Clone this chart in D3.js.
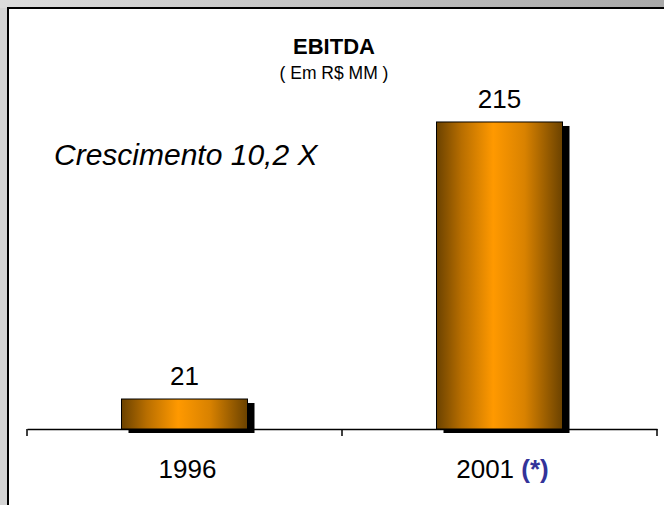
<!DOCTYPE html>
<meta charset="utf-8">
<style>
  body { margin: 0; background: #fff; }
  text { font-family: Arial, "Liberation Sans", sans-serif; }
</style>
<body>
<script src="https://cdn.jsdelivr.net/npm/d3@7/dist/d3.min.js"></script>
<script>
// data
var years = ["1996", "2001"];
var ebitda = [21, 215];
var yearNotes = ["", "(*)"];

var width = 664, height = 505;

var svg = d3.select("body").append("svg")
    .attr("width", width)
    .attr("height", height);

var defs = svg.append("defs");

// gray frame, darker to the right on top
var topGrad = defs.append("linearGradient").attr("id", "topGrad");
topGrad.append("stop").attr("offset", "0%").attr("stop-color", "#dcdcdc");
topGrad.append("stop").attr("offset", "100%").attr("stop-color", "#a9a9a9");

var barGrad = defs.append("linearGradient").attr("id", "barGrad");
[["0%", "#6b4200"], ["20%", "#b86e00"], ["45%", "#ff9900"], ["70%", "#d98200"], ["100%", "#6b4200"]]
  .forEach(function(s) {
    barGrad.append("stop").attr("offset", s[0]).attr("stop-color", s[1]);
  });

svg.append("rect").attr("width", width).attr("height", height).attr("fill", "#d4d4d4");
svg.append("rect").attr("width", width).attr("height", 8).attr("fill", "url(#topGrad)");
svg.append("rect").attr("x", 7).attr("y", 7).attr("width", width - 7).attr("height", height - 7)
    .attr("fill", "#000");
svg.append("rect").attr("x", 9).attr("y", 9).attr("width", width - 9).attr("height", height - 9)
    .attr("fill", "#fff");

// scales
var x = d3.scaleBand().domain(years).range([27, 657]).paddingInner(0.6).paddingOuter(0.3);
var y = d3.scaleLinear().domain([0, 250]).range([429, 72]);

var g = svg.append("g");

// shadows
g.selectAll(".shadow").data(ebitda).enter().append("rect")
    .attr("class", "shadow")
    .attr("x", function(d, i) { return x(years[i]) + 7; })
    .attr("y", function(d) { return y(d) + 4; })
    .attr("width", x.bandwidth())
    .attr("height", function(d) { return y(0) - y(d); })
    .attr("fill", "#000");

// axis
var axis = g.append("g").attr("transform", "translate(0," + y(0) + ")")
    .call(d3.axisBottom(x).tickSize(0).tickFormat(""));
axis.select(".domain").attr("stroke", "#000").attr("stroke-width", 1.5);
axis.selectAll(".tick").remove();
axis.selectAll(".sep").data([27, 342, 657]).enter().append("line")
    .attr("x1", function(d) { return d; }).attr("x2", function(d) { return d; })
    .attr("y1", 0).attr("y2", 7)
    .attr("stroke", "#000").attr("stroke-width", 1.5);

// bars
g.selectAll(".bar").data(ebitda).enter().append("rect")
    .attr("class", "bar")
    .attr("x", function(d, i) { return x(years[i]); })
    .attr("y", function(d) { return y(d); })
    .attr("width", x.bandwidth())
    .attr("height", function(d) { return y(0) - y(d); })
    .attr("fill", "url(#barGrad)")
    .attr("stroke", "#000")
    .attr("stroke-width", 1);

// value labels
g.selectAll(".val").data(ebitda).enter().append("text")
    .attr("x", function(d, i) { return x(years[i]) + x.bandwidth() / 2; })
    .attr("y", function(d) { return y(d) - 14; })
    .attr("text-anchor", "middle")
    .style("font-size", "26px")
    .text(function(d) { return d; });

// category labels
var cat = g.selectAll(".cat").data(years).enter().append("text")
    .attr("x", function(d) { return x(d) + x.bandwidth() / 2 + 3; })
    .attr("y", 478)
    .attr("text-anchor", "middle")
    .style("font-size", "26px");
cat.append("tspan").text(function(d) { return d; });
cat.append("tspan")
    .attr("fill", "#333399")
    .attr("font-weight", "bold")
    .text(function(d, i) { return yearNotes[i] ? " " + yearNotes[i] : ""; });

// titles
svg.append("text").attr("x", 334).attr("y", 54).attr("text-anchor", "middle")
    .style("font-size", "22px").style("font-weight", "bold").text("EBITDA");
svg.append("text").attr("x", 334).attr("y", 79).attr("text-anchor", "middle")
    .style("font-size", "17.5px").text("( Em R$ MM )");
svg.append("text").attr("x", 54).attr("y", 165)
    .style("font-size", "30px").style("font-style", "italic").text("Crescimento 10,2 X");
</script>
</body>
